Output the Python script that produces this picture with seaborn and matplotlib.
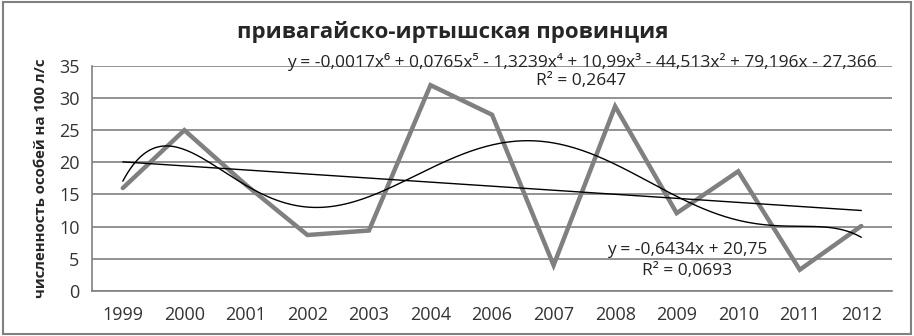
import numpy as np
import pandas as pd
import matplotlib
matplotlib.use("Agg")
import matplotlib.pyplot as plt
import seaborn as sns
from matplotlib.patches import Rectangle

years = ["1999", "2000", "2001", "2002", "2003", "2004", "2006",
         "2007", "2008", "2009", "2010", "2011", "2012"]
counts = [16.0, 25.0, 16.5, 8.7, 9.4, 32.0, 27.4, 4.0, 28.7, 12.1, 18.6, 3.3, 10.1]
yticks = [0, 5, 10, 15, 20, 25, 30, 35]

title = "привагайско-иртышская провинция"
ylabel = "численность особей на 100 л/с"
poly_eq = "y = -0,0017x⁶ + 0,0765x⁵ - 1,3239x⁴ + 10,99x³ - 44,513x² + 79,196x - 27,366"
poly_r2 = "R² = 0,2647"
lin_eq = "y = -0,6434x + 20,75"
lin_r2 = "R² = 0,0693"

sns.set_style("white")
plt.rcParams["font.family"] = ["Open Sans", "DejaVu Sans"]

df = pd.DataFrame({"pos": np.arange(len(years)), "year": years, "count": counts})

# trend lines (Excel style: x = 1..n)
xn = np.arange(1, len(years) + 1)
lin = np.polyfit(xn, counts, 1)
poly = np.polyfit(xn, counts, 6)
xs = np.linspace(1, len(years), 300)

fig = plt.figure(figsize=(9.14, 3.36), dpi=100)
ax = fig.add_axes([0.1007, 0.134, 0.8753, 0.670])

sns.lineplot(data=df, x="pos", y="count", color="#808080", linewidth=3.2, ax=ax,
             solid_joinstyle="miter")
ax.plot(xs - 1, np.polyval(poly, xs), color="black", linewidth=1.0)
ax.plot(xs - 1, np.polyval(lin, xs), color="black", linewidth=1.0)

ax.set_xlim(-0.5, len(years) - 0.5)
ax.set_ylim(0, 35)
ax.set_yticks(yticks)
ax.set_yticklabels([str(v) for v in yticks], fontsize=13, color="#333333")
ax.set_xticks(np.arange(len(years)))
ax.set_xticklabels(years, fontsize=13, color="#333333")
ax.set_xticks(np.arange(len(years) + 1) - 0.5, minor=True)
ax.tick_params(axis="x", which="major", length=0, pad=11)
ax.tick_params(axis="x", which="minor", length=5, color="#808080", width=1)
ax.tick_params(axis="y", which="major", length=5, color="#808080", width=1, pad=4)
ax.grid(axis="y", color="#808080", linewidth=1.2)
ax.set_axisbelow(True)
for s in ["top", "right"]:
    ax.spines[s].set_visible(False)
for s in ["left", "bottom"]:
    ax.spines[s].set_color("#808080")
    ax.spines[s].set_linewidth(1.2)

ax.set_xlabel("")
ax.set_ylabel(ylabel, fontsize=10.8, fontweight="bold", labelpad=8)
fig.text(0.495, 0.905, title, ha="center", va="center", fontsize=16, fontweight="bold")

ax.text(582 / 914, 1 - 62 / 336, poly_eq, transform=fig.transFigure, ha="center",
        va="center", fontsize=12.5, color="#222222")
ax.text(581 / 914, 1 - 81 / 336, poly_r2, transform=fig.transFigure, ha="center",
        va="center", fontsize=12.5, color="#222222")
ax.text(687 / 914, 1 - 250 / 336, lin_eq, transform=fig.transFigure, ha="center",
        va="center", fontsize=12.5, color="#222222")
ax.text(687 / 914, 1 - 271 / 336, lin_r2, transform=fig.transFigure, ha="center",
        va="center", fontsize=12.5, color="#222222")

fig.patches.append(Rectangle((0.003, 0.006), 0.994, 0.988, transform=fig.transFigure,
                             fill=False, edgecolor="#808080", linewidth=1.5))

fig.savefig("out.png", dpi=100)
